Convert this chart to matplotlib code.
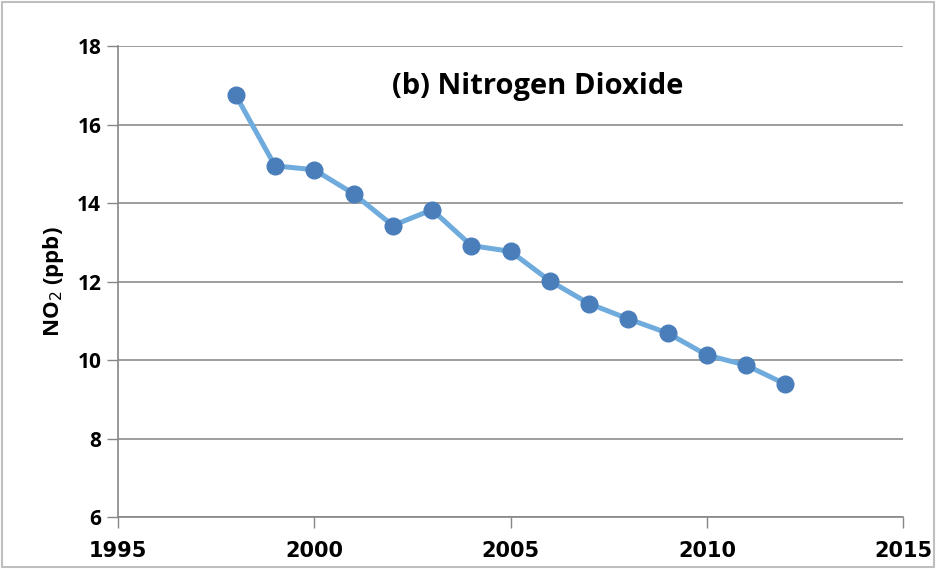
import matplotlib
matplotlib.use('Agg')
from matplotlib import pyplot as plt
from matplotlib.patches import Rectangle

# 数据
years = [1998, 1999, 2000, 2001, 2002, 2003, 2004, 2005,
         2006, 2007, 2008, 2009, 2010, 2011, 2012]
no2 = [16.75, 14.95, 14.85, 14.24, 13.43, 13.83, 12.92, 12.77,
       12.02, 11.44, 11.05, 10.69, 10.13, 9.87, 9.39]

x_ticks = [1995, 2000, 2005, 2010, 2015]
y_ticks = [6, 8, 10, 12, 14, 16, 18]

plt.rcParams['font.family'] = ['Liberation Sans Narrow', 'DejaVu Sans']

fig = plt.figure(figsize=(9.36, 5.69), dpi=100)
ax = fig.add_axes([0.126, 0.091, 0.839, 0.828])

ax.plot(years, no2, color='#6fabdc', linewidth=3.6, marker='o',
        markersize=12, markerfacecolor='#4a7ebb', markeredgecolor='#4a7ebb',
        zorder=3)

ax.set_xlim(1995, 2015)
ax.set_ylim(6, 18)
ax.set_xticks(x_ticks)
ax.set_yticks(y_ticks)
ax.set_xticklabels([str(t) for t in x_ticks], fontsize=15, fontweight='bold')
ax.set_yticklabels([str(t) for t in y_ticks], fontsize=15, fontweight='bold',
                   family=['Open Sans', 'DejaVu Sans'])
ax.tick_params(axis='x', direction='out', length=8, width=1, color='#868686', pad=9)
ax.tick_params(axis='y', direction='out', length=8, width=1, color='#868686', pad=4)

ax.grid(axis='y', color='#8c8c8c', linewidth=1.2)
ax.set_axisbelow(True)
for s in ['top', 'right']:
    ax.spines[s].set_visible(False)
for s in ['left', 'bottom']:
    ax.spines[s].set_color('#868686')
    ax.spines[s].set_linewidth(1.2)

ax.set_ylabel('NO$_2$ (ppb)', fontsize=16, fontweight='bold',
              family=['Open Sans', 'DejaVu Sans'], labelpad=8)
ax.text(0.535, 0.915, '(b) Nitrogen Dioxide', transform=ax.transAxes,
        fontsize=21, fontweight='bold', family=['Open Sans', 'DejaVu Sans'],
        ha='center', va='center')

# 外框
fig.patches.append(Rectangle((0.002, 0.003), 0.996, 0.994, transform=fig.transFigure,
                             fill=False, edgecolor='#bfbfbf', linewidth=1.5))

fig.savefig('out.png', dpi=100)
